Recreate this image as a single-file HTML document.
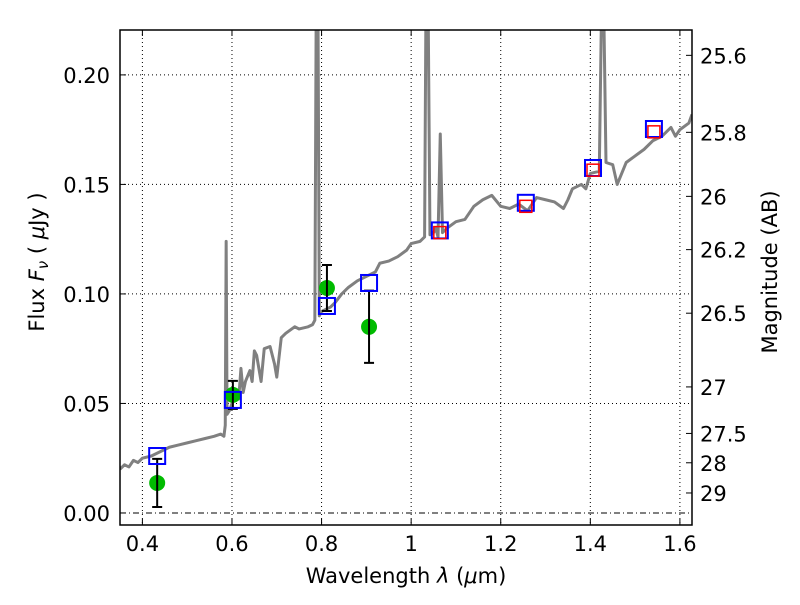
<!DOCTYPE html>
<html><head><meta charset="utf-8"><style>
body{margin:0;background:#fff;}
svg text{font-family:"DejaVu Sans","Liberation Sans",sans-serif;}
</style></head><body>
<svg id="chart" width="800" height="600" xmlns="http://www.w3.org/2000/svg">
<rect width="800" height="600" fill="#fff"/>
<g id="grid"></g>
<g id="spec"></g>
<g id="marks"></g>
<g id="axes"></g>
</svg>
<script>
const specLam=[0.35,0.36,0.37,0.38,0.39,0.40,0.42,0.44,0.46,0.48,0.50,0.52,0.54,0.56,0.575,0.582,0.585,0.587,0.589,0.595,0.60,0.605,0.61,0.615,0.62,0.625,0.63,0.64,0.645,0.65,0.655,0.665,0.672,0.685,0.695,0.70,0.71,0.72,0.74,0.75,0.77,0.78,0.785,0.788,0.792,0.795,0.80,0.82,0.83,0.845,0.86,0.88,0.90,0.92,0.93,0.95,0.97,0.99,1.00,1.02,1.03,1.033,1.038,1.042,1.05,1.055,1.06,1.065,1.07,1.08,1.10,1.12,1.14,1.16,1.18,1.20,1.22,1.24,1.26,1.28,1.30,1.32,1.34,1.35,1.36,1.38,1.39,1.40,1.42,1.425,1.43,1.435,1.45,1.46,1.48,1.50,1.52,1.54,1.56,1.58,1.59,1.60,1.62,1.627];
const specFlux=[0.020,0.022,0.021,0.024,0.023,0.025,0.026,0.028,0.030,0.031,0.032,0.033,0.034,0.035,0.036,0.035,0.040,0.124,0.045,0.047,0.050,0.053,0.055,0.052,0.066,0.055,0.060,0.065,0.060,0.074,0.072,0.060,0.075,0.076,0.068,0.062,0.080,0.082,0.085,0.084,0.085,0.086,0.088,0.23,0.23,0.090,0.092,0.094,0.096,0.100,0.103,0.106,0.108,0.110,0.114,0.115,0.117,0.120,0.123,0.124,0.126,0.23,0.23,0.127,0.128,0.130,0.126,0.173,0.128,0.130,0.133,0.134,0.140,0.143,0.145,0.140,0.139,0.141,0.138,0.144,0.143,0.142,0.139,0.143,0.148,0.150,0.148,0.155,0.156,0.23,0.23,0.160,0.159,0.150,0.160,0.163,0.166,0.170,0.172,0.176,0.172,0.175,0.178,0.182];
const modelLam=[0.433,0.602,0.812,0.906,1.064,1.256,1.406,1.542];
const modelFlux=[0.026,0.0516,0.0945,0.105,0.129,0.1416,0.1575,0.1753];
const redLam=[1.064,1.256,1.406,1.542];
const redFlux=[0.128,0.140,0.1565,0.174];
const obsLam=[0.433,0.602,0.812,0.906];
const obsFlux=[0.0137,0.0539,0.1027,0.085];
const obsErr=[0.011,0.0064,0.0105,0.0165];
const xTicks=[0.4,0.6,0.8,1.0,1.2,1.4,1.6];
const xTickLabels=["0.4","0.6","0.8","1","1.2","1.4","1.6"];
const yTicks=[0,0.05,0.10,0.15,0.20];
const yTickLabels=["0.00","0.05","0.10","0.15","0.20"];
const magTicks=[25.6,25.8,26,26.2,26.5,27,27.5,28,29];
const magTickLabels=["25.6","25.8","26","26.2","26.5","27","27.5","28","29"];

const L=120,R=692,T=30,B=525,xmin=0.35,xmax=1.627,ymin=-0.0055,ymax=0.2205;
const X=v=>L+(v-xmin)/(xmax-xmin)*(R-L);
const Y=v=>B-(v-ymin)/(ymax-ymin)*(B-T);
const NS="http://www.w3.org/2000/svg";
function mk(parent,tag,attrs){const e=document.createElementNS(NS,tag);for(const k in attrs)e.setAttribute(k,attrs[k]);document.getElementById(parent).appendChild(e);return e;}

xTicks.forEach(t=>{const e=mk('grid','line',{x1:X(t),x2:X(t),y1:T,y2:B,stroke:'#000','stroke-width':1,'stroke-dasharray':'1,3'});

});
yTicks.forEach(t=>{const e=mk('grid','line',{x1:L,x2:R,y1:Y(t),y2:Y(t),stroke:'#000','stroke-width':1,'stroke-dasharray':t===0?'6,3,1,3':'1,3'});

});

const clip=mk('spec','clipPath',{id:'pc'});
const cr=document.createElementNS(NS,'rect');cr.setAttribute('x',L);cr.setAttribute('y',T);cr.setAttribute('width',R-L);cr.setAttribute('height',B-T);clip.appendChild(cr);
const sp=mk('spec','polyline',{points:specLam.map((l,i)=>X(l)+','+Y(specFlux[i])).join(' '),fill:'none',stroke:'#808080','stroke-width':3,'stroke-linejoin':'round','clip-path':'url(#pc)'});



obsLam.forEach((l,i)=>{
 const x=X(l),y1=Y(obsFlux[i]-obsErr[i]),y2=Y(obsFlux[i]+obsErr[i]);
 const c=mk('marks','circle',{cx:x,cy:Y(obsFlux[i]),r:8,fill:'#00bb00'});
 
 
 const eb=mk('marks','path',{d:`M${x},${y1}V${y2}M${x-5},${y1}H${x+5}M${x-5},${y2}H${x+5}`,stroke:'#000','stroke-width':2,fill:'none'});
 
 
});
modelLam.forEach((l,i)=>{const s=mk('marks','rect',{x:X(l)-8,y:Y(modelFlux[i])-8,width:16,height:16,fill:'none',stroke:'#0000ff','stroke-width':2});

});
redLam.forEach((l,i)=>{const s=mk('marks','rect',{x:X(l)-6,y:Y(redFlux[i])-6,width:12,height:12,fill:'none',stroke:'#ff0000','stroke-width':1.5});

});

const fr=mk('axes','rect',{x:L,y:T,width:R-L,height:B-T,fill:'none',stroke:'#000','stroke-width':1.5});


xTicks.forEach((t,i)=>{
 mk('axes','path',{d:`M${X(t)},${B}v-6M${X(t)},${T}v6`,stroke:'#000'});
 const tx=mk('axes','text',{x:X(t),y:B+26,'font-size':21,'text-anchor':'middle'});tx.textContent=xTickLabels[i];
 
 
});
yTicks.forEach((t,i)=>{
 mk('axes','path',{d:`M${L},${Y(t)}h6`,stroke:'#000'});
 const tx=mk('axes','text',{x:L-10,y:Y(t)+8,'font-size':21,'text-anchor':'end'});tx.textContent=yTickLabels[i];
 
 
});
magTicks.forEach((m,i)=>{
 const f=Math.pow(10,(23.9-m)/2.5);const y=Y(f);
 mk('axes','path',{d:`M${R},${y}h-6`,stroke:'#000'});
 const tx=mk('axes','text',{x:R+8,y:y+8,'font-size':21,'text-anchor':'start'});tx.textContent=magTickLabels[i];
 
 
});
let t=mk('axes','text',{x:406,y:583,'font-size':21,'text-anchor':'middle'});
t.innerHTML='Wavelength  <tspan font-style="italic">λ</tspan> (<tspan font-style="italic">μ</tspan>m)';


t=mk('axes','text',{x:0,y:0,'font-size':21,'text-anchor':'middle',transform:'translate(44,262) rotate(-90)'});
t.innerHTML='Flux  <tspan font-style="italic">F</tspan><tspan font-style="italic" font-size="15" dy="4">ν</tspan><tspan dy="-4">  ( </tspan><tspan font-style="italic">μ</tspan>Jy )';


t=mk('axes','text',{x:0,y:0,'font-size':21,'text-anchor':'middle',transform:'translate(777,272) rotate(-90)'});
t.textContent='Magnitude (AB)';


</script>
</body></html>
